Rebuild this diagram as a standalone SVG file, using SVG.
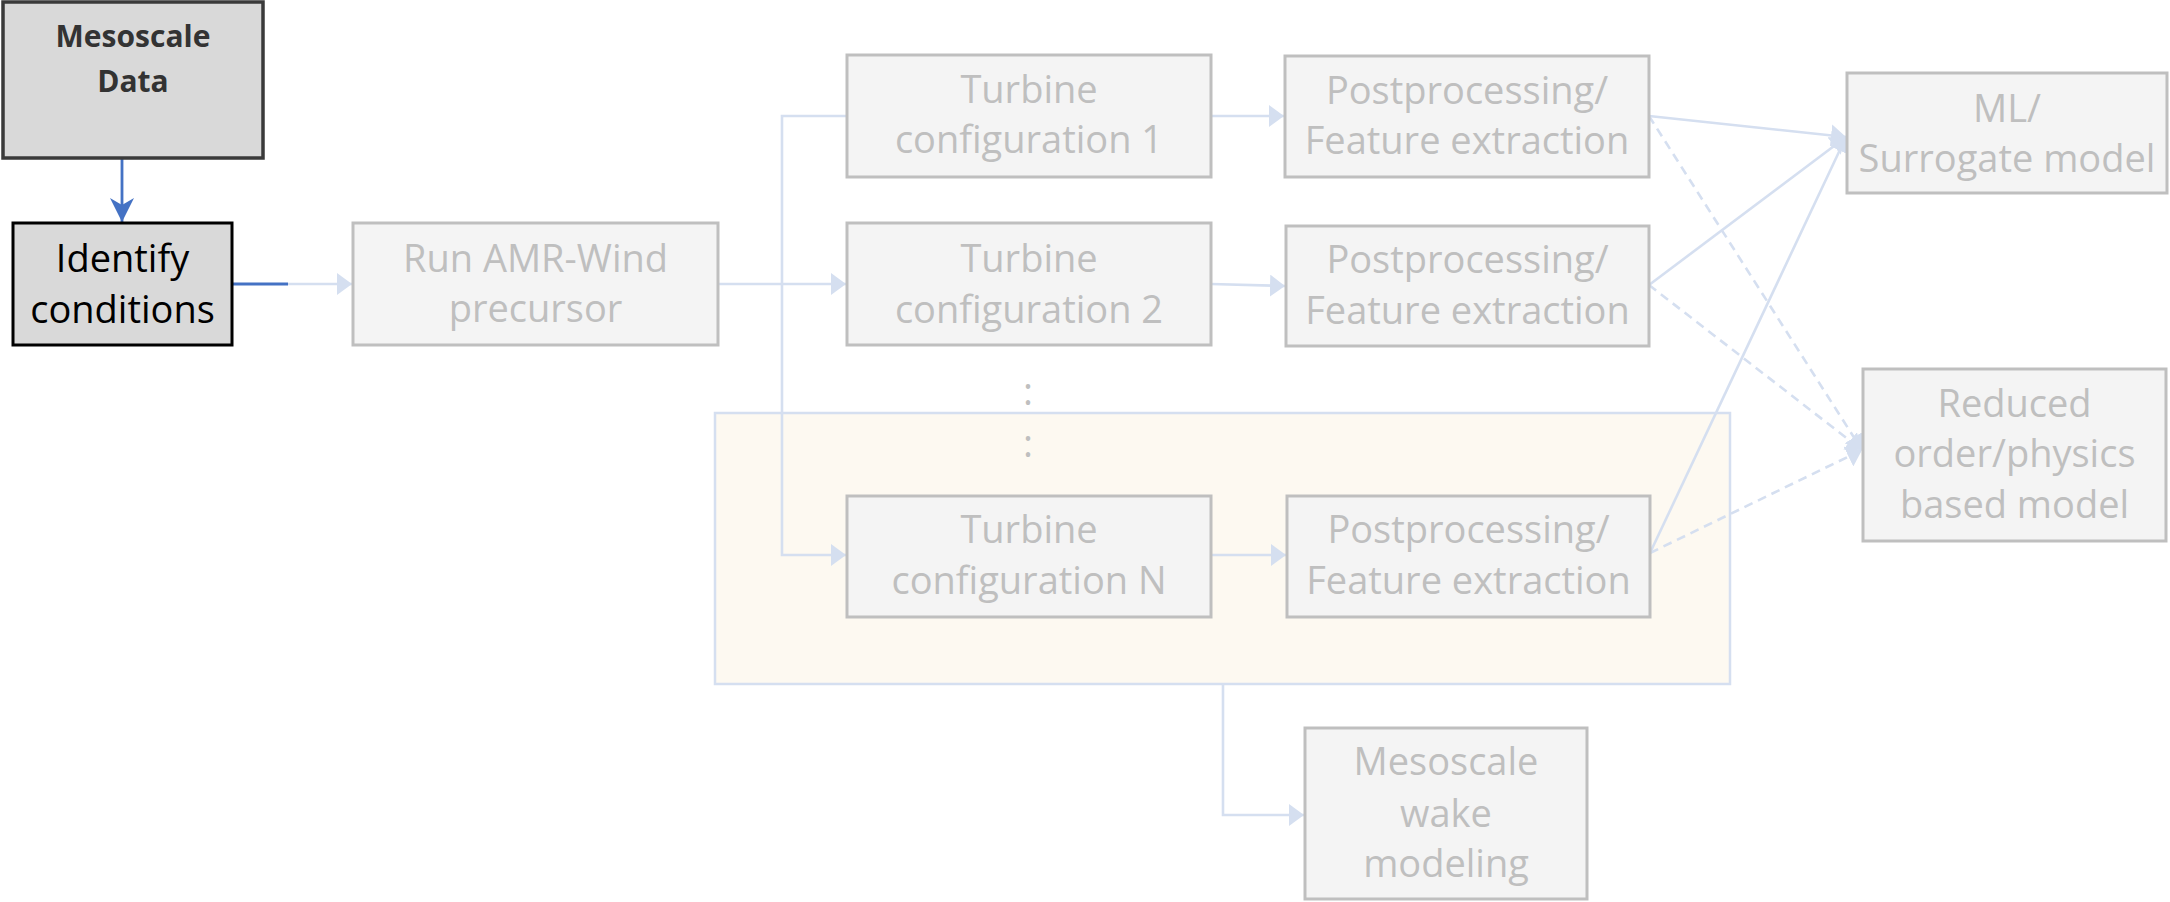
<svg xmlns="http://www.w3.org/2000/svg" width="2170" height="902" viewBox="0 0 2170 902">
<style>
.box{fill:#f4f4f4;stroke:#bfbfbf;stroke-width:3}
.t{font-family:"Open Sans","Liberation Sans",sans-serif;font-size:38px;fill:#bfbfbf;text-anchor:middle}
.tk{font-family:"Open Sans","Liberation Sans",sans-serif;font-size:38px;fill:#000;text-anchor:middle}
.tb{font-family:"Open Sans","Liberation Sans",sans-serif;font-size:30px;font-weight:bold;fill:#333;text-anchor:middle}
.lc{fill:none;stroke:#d5dff0;stroke-width:2.6}
.dash{stroke-dasharray:9 6}
</style>
<defs>
<marker id="al" markerUnits="userSpaceOnUse" viewBox="0 0 15 22" markerWidth="15" markerHeight="22" refX="15" refY="11" orient="auto"><path d="M0,0 L15,11 L0,22 z" fill="#d5dff0"/></marker>
<marker id="ab" markerUnits="userSpaceOnUse" viewBox="0 0 24 24" markerWidth="24" markerHeight="24" refX="24" refY="12" orient="auto"><path d="M0,0 L24,12 L0,24 L7,12 z" fill="#4472c4"/></marker>
</defs>

<rect id="container" x="715" y="413" width="1015" height="271" fill="#fdf9f1" stroke="#d5dff0" stroke-width="2.5"/>

<g id="connectors">
<line x1="122" y1="158" x2="122" y2="222" stroke="#4472c4" stroke-width="2.8" marker-end="url(#ab)"/>
<line x1="232" y1="284" x2="288" y2="284" stroke="#4472c4" stroke-width="2.8"/>
<line class="lc" x1="288" y1="284" x2="352" y2="284" marker-end="url(#al)"/>
<line class="lc" x1="718" y1="284" x2="846" y2="284" marker-end="url(#al)"/>
<polyline class="lc" points="847,116 782,116 782,555 846,555" marker-end="url(#al)"/>
<line class="lc" x1="1211" y1="116" x2="1284" y2="116" marker-end="url(#al)"/>
<line class="lc" x1="1211" y1="284" x2="1285" y2="286" marker-end="url(#al)"/>
<line class="lc" x1="1211" y1="555" x2="1286" y2="555" marker-end="url(#al)"/>
<line class="lc" x1="1649" y1="116" x2="1846" y2="137" marker-end="url(#al)"/>
<line class="lc" x1="1649" y1="285" x2="1846" y2="137" marker-end="url(#al)"/>
<line class="lc" x1="1650" y1="553" x2="1846" y2="137" marker-end="url(#al)"/>
<line class="lc dash" x1="1649" y1="116" x2="1862" y2="450" marker-end="url(#al)"/>
<line class="lc dash" x1="1649" y1="285" x2="1862" y2="450" marker-end="url(#al)"/>
<line class="lc dash" x1="1650" y1="553" x2="1862" y2="450" marker-end="url(#al)"/>
<polyline class="lc" points="1223,684 1223,815 1304,815" marker-end="url(#al)"/>
</g>

<g id="mesoscale_data">
<rect x="3" y="2" width="260" height="156" fill="#d9d9d9" stroke="#3a3a3a" stroke-width="3.5"/>
<text class="tb" x="133" y="47">Mesoscale</text>
<text class="tb" x="133" y="92">Data</text>
</g>
<g id="identify_conditions">
<rect x="13" y="223" width="219" height="122" fill="#d9d9d9" stroke="#000" stroke-width="3"/>
<text class="tk" x="122.5" y="272">Identify</text>
<text class="tk" x="122.5" y="323">conditions</text>
</g>
<g id="run_amr">
<rect class="box" x="353" y="223" width="365" height="122"/>
<text class="t" x="535.5" y="272">Run AMR-Wind</text>
<text class="t" x="535.5" y="322">precursor</text>
</g>
<g id="turbine_config_1">
<rect class="box" x="847" y="55" width="364" height="122"/>
<text class="t" x="1029" y="103">Turbine</text>
<text class="t" x="1029" y="153">configuration 1</text>
</g>
<g id="turbine_config_2">
<rect class="box" x="847" y="223" width="364" height="122"/>
<text class="t" x="1029" y="272">Turbine</text>
<text class="t" x="1029" y="323">configuration 2</text>
</g>
<g id="dots">
<text class="t" x="1028" y="405">:</text>
<text class="t" x="1028" y="457">:</text>
</g>
<g id="turbine_config_n">
<rect class="box" x="847" y="496" width="364" height="121"/>
<text class="t" x="1029" y="543">Turbine</text>
<text class="t" x="1029" y="594">configuration N</text>
</g>
<g id="postprocessing_1">
<rect class="box" x="1285" y="56" width="364" height="121"/>
<text class="t" x="1467" y="104">Postprocessing/</text>
<text class="t" x="1467" y="154">Feature extraction</text>
</g>
<g id="postprocessing_2">
<rect class="box" x="1286" y="226" width="363" height="120"/>
<text class="t" x="1467.5" y="273">Postprocessing/</text>
<text class="t" x="1467.5" y="324">Feature extraction</text>
</g>
<g id="postprocessing_n">
<rect class="box" x="1287" y="496" width="363" height="121"/>
<text class="t" x="1468.5" y="543">Postprocessing/</text>
<text class="t" x="1468.5" y="594">Feature extraction</text>
</g>
<g id="ml_surrogate">
<rect class="box" x="1847" y="73" width="320" height="120"/>
<text class="t" x="2007" y="122">ML/</text>
<text class="t" x="2007" y="172">Surrogate model</text>
</g>
<g id="reduced_order">
<rect class="box" x="1863" y="369" width="303" height="172"/>
<text class="t" x="2014.5" y="417">Reduced</text>
<text class="t" x="2014.5" y="467">order/physics</text>
<text class="t" x="2014.5" y="518">based model</text>
</g>
<g id="mesoscale_wake">
<rect class="box" x="1305" y="728" width="282" height="171"/>
<text class="t" x="1446" y="775">Mesoscale</text>
<text class="t" x="1446" y="827">wake</text>
<text class="t" x="1446" y="877">modeling</text>
</g>
</svg>
